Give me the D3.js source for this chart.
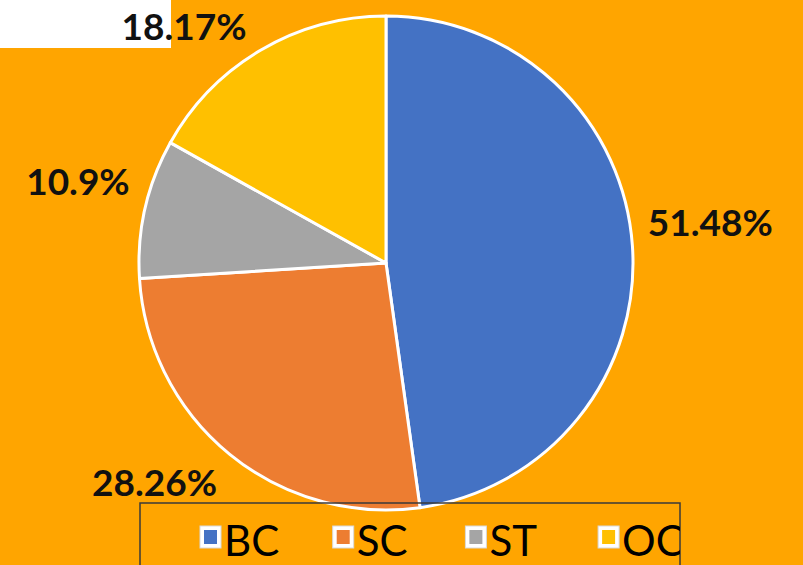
<!DOCTYPE html>
<html>
<head>
<meta charset="utf-8">
<script src="https://cdn.jsdelivr.net/npm/d3@7"></script>
<style>
  html, body { margin: 0; padding: 0; background: #FFA500; }
  svg { display: block; }
</style>
</head>
<body>
<div id="chart"></div>
<script>
const categories = ["BC", "SC", "ST", "OC"];
// slice shares as drawn in the picture
const values = [47.8, 26.2, 9.1, 16.9];
// data label texts as printed
const labels = ["51.48%", "28.26%", "10.9%", "18.17%"];
const colors = ["#4472C4", "#ED7D31", "#A5A5A5", "#FFC000"];

const width = 803, height = 565;
const cx = 386, cy = 263, radius = 247;

// label nudges (best-fit placement like the original)
const labelNudge = [[5, -18], [-29, -28], [4, -10], [-40, 40]];

const svg = d3.select("#chart").append("svg")
  .attr("width", width)
  .attr("height", height);

svg.append("rect")
  .attr("width", width).attr("height", height)
  .attr("fill", "#FFA500");

// white patch top-left
svg.append("rect")
  .attr("x", 0).attr("y", 0)
  .attr("width", 171).attr("height", 48)
  .attr("fill", "#fff");

const data = categories.map((c, i) => ({ cat: c, value: values[i], label: labels[i], color: colors[i] }));

const pie = d3.pie().sort(null).value(d => d.value);
const arcs = pie(data);

const arc = d3.arc().innerRadius(0).outerRadius(radius);
const labelArc = d3.arc().innerRadius(320).outerRadius(320);

const g = svg.append("g").attr("transform", `translate(${cx},${cy})`);

g.selectAll("path.slice")
  .data(arcs)
  .enter()
  .append("path")
  .attr("class", "slice")
  .attr("d", arc)
  .attr("fill", d => d.data.color)
  .attr("stroke", "#fff")
  .attr("stroke-width", 3)
  .attr("stroke-linejoin", "round");

g.selectAll("text.lbl")
  .data(arcs)
  .enter()
  .append("text")
  .attr("class", "lbl")
  .attr("x", (d, i) => labelArc.centroid(d)[0] + labelNudge[i][0])
  .attr("y", (d, i) => labelArc.centroid(d)[1] + labelNudge[i][1] + 13)
  .attr("text-anchor", "middle")
  .attr("font-family", "Lato, 'Open Sans', sans-serif")
  .attr("font-weight", "bold")
  .attr("font-size", 37)
  .attr("fill", "#111")
  .text(d => d.data.label);

// legend
const legX = 140, legY = 503, legW = 540, legH = 80;
svg.append("clipPath").attr("id", "legclip")
  .append("rect")
  .attr("x", legX).attr("y", legY)
  .attr("width", legW).attr("height", legH);

svg.append("rect")
  .attr("x", legX).attr("y", legY)
  .attr("width", legW).attr("height", legH)
  .attr("fill", "none")
  .attr("stroke", "#3a3a3a")
  .attr("stroke-width", 1.5);

const legScale = d3.scaleBand()
  .domain(categories)
  .range([200, 200 + 4 * 132.7]);

const leg = svg.append("g").attr("clip-path", "url(#legclip)");
const item = leg.selectAll("g.item")
  .data(data)
  .enter()
  .append("g")
  .attr("class", "item")
  .attr("transform", d => `translate(${legScale(d.cat)},${526})`);

item.append("rect")
  .attr("width", 21).attr("height", 22)
  .attr("fill", "#fff")
  .attr("stroke", "#d9d9d9")
  .attr("stroke-width", 1);

item.append("rect")
  .attr("x", 4).attr("y", 4)
  .attr("width", 13).attr("height", 14)
  .attr("fill", d => d.color);

item.append("text")
  .attr("x", 24)
  .attr("y", 30)
  .attr("font-family", "Lato, 'Open Sans', sans-serif")
  .attr("font-size", 42)
  .attr("fill", "#000")
  .text(d => d.cat);
</script>
</body>
</html>
